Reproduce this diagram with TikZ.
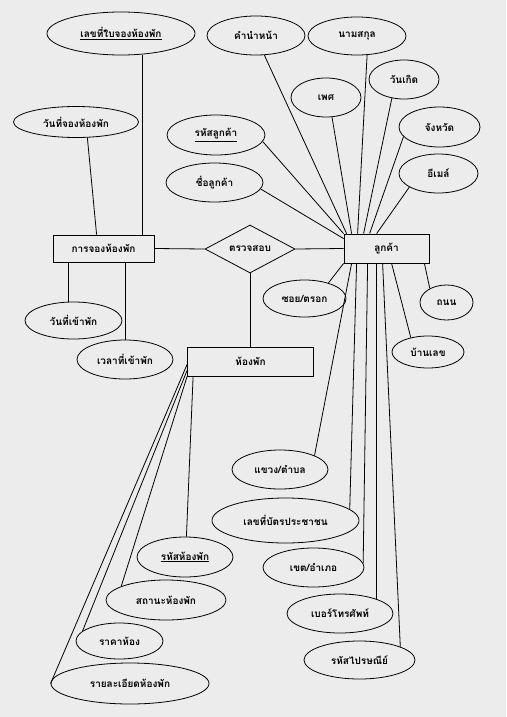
\documentclass[tikz,border=0pt]{standalone}
\usepackage{fontspec}
\newfontfamily\thaifont[Script=Thai]{Loma}
\usetikzlibrary{shapes.geometric}

\definecolor{bggray}{rgb}{0.925,0.925,0.925}

\begin{document}
\begin{tikzpicture}[x=1pt,y=-1pt,line width=0.8pt,
    ent/.style={draw, rectangle, inner sep=0pt},
    attr/.style={draw, ellipse, inner sep=0pt},
    rel/.style={draw, diamond, inner sep=0pt, aspect=1.9, minimum width=90pt, minimum height=48pt},
    wh/.style 2 args={minimum width=#1pt, minimum height=#2pt},
    every node/.style={font=\thaifont\bfseries\fontsize{10}{12}\selectfont}]
    % พื้นหลัง
    \fill[bggray] (0,0) rectangle (506,717);
    \useasboundingbox (0,0) rectangle (506,717);

    % เอนทิตี
    \node[ent, wh={101}{27}] (booking) at (103.5,248.5) {การจองห้องพัก};
    \node[ent, wh={85}{29}] (customer) at (386.5,248.5) {ลูกค้า};
    \node[ent, wh={126}{29}] (room) at (250.5,361.5) {ห้องพัก};
    \node[rel] (check) at (250,249) {ตรวจสอบ};

    % แอตทริบิวต์
    \node[attr, wh={148}{43}] (bookno) at (121,33.5) {\underline{เลขที่ใบจองห้องพัก}};
    \node[attr, wh={125}{31}] (bookdate) at (76,122) {วันที่จองห้องพัก};
    \node[attr, wh={98}{40}] (custid) at (216,135) {\underline{รหัสลูกค้า}};
    \node[attr, wh={97}{39}] (custname) at (214.5,182.5) {ชื่อลูกค้า};
    \node[attr, wh={98}{39}] (prefix) at (256,35.5) {คำนำหน้า};
    \node[attr, wh={98}{38}] (surname) at (357,36) {นามสกุล};
    \node[attr, wh={70}{39}] (gender) at (326,97.5) {เพศ};
    \node[attr, wh={70}{39}] (birthday) at (404,79.5) {วันเกิด};
    \node[attr, wh={81}{40}] (province) at (439.5,127) {จังหวัด};
    \node[attr, wh={79}{39}] (email) at (438.5,173.5) {อีเมล์};
    \node[attr, wh={97}{37}] (checkin) at (73.5,320.5) {วันที่เข้าพัก};
    \node[attr, wh={96}{39}] (checktime) at (125,359.5) {เวลาที่เข้าพัก};
    \node[attr, wh={83}{37}] (soi) at (304.5,298.5) {ซอย/ตรอก};
    \node[attr, wh={53}{35}] (road) at (446.5,302.5) {ถนน};
    \node[attr, wh={72}{32}] (houseno) at (428,352) {บ้านเลข};
    \node[attr, wh={96}{39}] (subdist) at (280,469.5) {แขวง/ตำบล};
    \node[attr, wh={147}{45}] (idcard) at (285.5,520.5) {เลขที่บัตรประชาชน};
    \node[attr, wh={101}{39}] (district) at (313.5,567.5) {เขต/อำเภอ};
    \node[attr, wh={106}{39}] (phone) at (340,613.5) {เบอร์โทรศัพท์};
    \node[attr, wh={111}{38}] (zipcode) at (359.5,660) {รหัสไปรษณีย์};
    \node[attr, wh={96}{40}] (roomid) at (185,557) {\underline{รหัสห้องพัก}};
    \node[attr, wh={120}{40}] (status) at (166,600) {สถานะห้องพัก};
    \node[attr, wh={87}{36}] (price) at (119.5,641) {ราคาห้อง};
    \node[attr, wh={158}{41}] (detail) at (130,683.5) {รายละเอียดห้องพัก};

    % เส้นเชื่อม
    \draw (booking.east) -- (check.west);
    \draw (check.east) -- (customer.west);
    \draw (check.south) -- (check.south |- room.north);

    \draw (bookno.-45) -- (bookno.-45 |- booking.north);
    \draw (bookdate.-54) -- ([xshift=44pt]booking.north west);
    \draw (checkin.104 |- booking.south) -- (checkin.104);
    \draw (checktime.north |- booking.south) -- (checktime.north);

    \draw (custid.-8) -- (customer.north west);
    \draw (custname.-8) -- ([yshift=-5pt]customer.north west);
    \draw (prefix.-67) -- ([xshift=3pt]customer.north west);
    \draw (gender.-73) -- ([xshift=8pt]customer.north west);
    \draw (surname.-62) -- ([xshift=14pt]customer.north west);
    \draw (birthday.-123) -- ([xshift=20pt]customer.north west);
    \draw (province.195) -- ([xshift=26pt]customer.north west);
    \draw (email.205) -- ([xshift=33pt]customer.north west);

    \draw (customer.south west) -- (soi.33);
    \draw ([xshift=-5pt]customer.south east) -- (road.140);
    \draw ([xshift=48pt]customer.south west) -- (houseno.140);
    \draw ([xshift=8pt]customer.south west) -- (subdist.22);
    \draw ([xshift=13pt]customer.south west) -- (idcard.10);
    \draw ([xshift=24pt]customer.south west) -- (district.5);
    \draw (phone.22 |- customer.south) -- (phone.22);
    \draw ([xshift=39pt]customer.south west) -- (zipcode.18);

    \draw ([xshift=6pt]room.south west) -- (roomid.86);
    \draw (room.south west) -- (status.163);
    \draw ([yshift=6pt]room.south west) -- (price.165);
    \draw ([yshift=12pt]room.south west) -- (detail.west);
\end{tikzpicture}
\end{document}
